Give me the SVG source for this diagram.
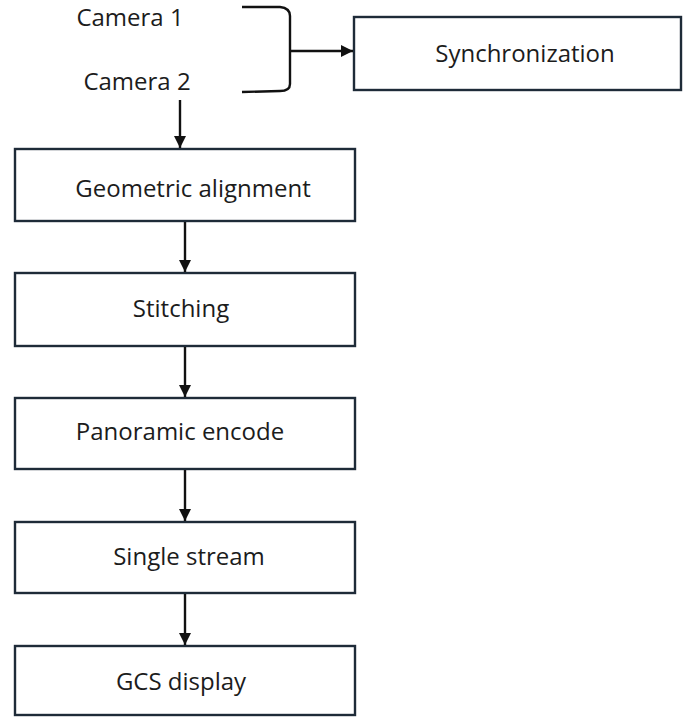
<svg xmlns="http://www.w3.org/2000/svg" width="683" height="717" viewBox="0 0 683 717">
  <defs>
    <marker id="arrow" viewBox="0 0 10 10" refX="10" refY="5" markerWidth="5" markerHeight="5" orient="auto" markerUnits="strokeWidth">
      <path d="M0,0 L10,5 L0,10 Z" fill="#111"/>
    </marker>
    <style>
      .box { fill: #ffffff; stroke: #1e2b38; stroke-width: 2.4; }
      .label { font-family: "Open Sans", "Liberation Sans", sans-serif; font-size: 24px; fill: #1c1c1c; text-anchor: middle; }
      .edge { fill: none; stroke: #111; stroke-width: 2.4; }
    </style>
  </defs>
  <rect width="683" height="717" fill="#ffffff"/>

  <g id="camera1"><text class="label" x="130" y="26">Camera 1</text></g>
  <g id="camera2"><text class="label" x="137" y="90">Camera 2</text></g>

  <g id="synchronization">
    <rect class="box" x="354" y="17" width="327" height="73"/>
    <text class="label" x="525" y="62">Synchronization</text>
  </g>
  <g id="geometric-alignment">
    <rect class="box" x="15" y="149" width="340" height="72"/>
    <text class="label" x="193" y="197">Geometric alignment</text>
  </g>
  <g id="stitching">
    <rect class="box" x="15" y="273" width="340" height="73"/>
    <text class="label" x="181" y="317">Stitching</text>
  </g>
  <g id="panoramic-encode">
    <rect class="box" x="15" y="398" width="340" height="71"/>
    <text class="label" x="180" y="440">Panoramic encode</text>
  </g>
  <g id="single-stream">
    <rect class="box" x="15" y="522" width="340" height="71"/>
    <text class="label" x="189" y="565">Single stream</text>
  </g>
  <g id="gcs-display">
    <rect class="box" x="15" y="646" width="340" height="69"/>
    <text class="label" x="181" y="690">GCS display</text>
  </g>

  <g id="connectors">
    <!-- bracket grouping both cameras -->
    <path class="edge" d="M242,7 L280,7 Q290,8 290,16 L290,84 Q290,91 280,91 L242,92"/>
    <line class="edge" x1="290" y1="51" x2="353" y2="51" marker-end="url(#arrow)"/>
    <line class="edge" x1="180" y1="100" x2="180" y2="148" marker-end="url(#arrow)"/>
    <line class="edge" x1="185" y1="222" x2="185" y2="272" marker-end="url(#arrow)"/>
    <line class="edge" x1="185" y1="347" x2="185" y2="397" marker-end="url(#arrow)"/>
    <line class="edge" x1="185" y1="470" x2="185" y2="521" marker-end="url(#arrow)"/>
    <line class="edge" x1="185" y1="594" x2="185" y2="645" marker-end="url(#arrow)"/>
  </g>
</svg>
